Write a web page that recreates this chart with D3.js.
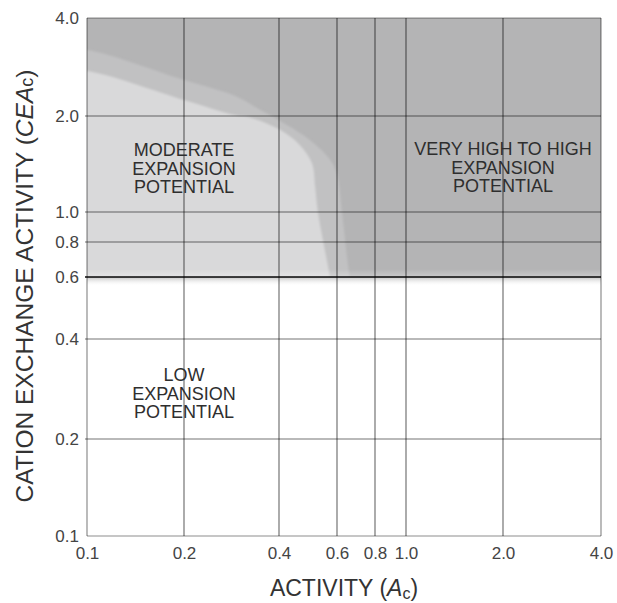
<!DOCTYPE html>
<html>
<head>
<meta charset="utf-8">
<script src="https://cdn.jsdelivr.net/npm/d3@7"></script>
<style>
  html, body { margin: 0; padding: 0; background: #fff; }
  svg { display: block; font-family: "Liberation Sans", Arial, Helvetica, sans-serif; }
</style>
</head>
<body>
<svg id="chart" width="617" height="603"></svg>
<script>
// ---- data ----
const xTicks = [0.1, 0.2, 0.4, 0.6, 0.8, 1.0, 2.0, 4.0];
const yTicks = [0.1, 0.2, 0.4, 0.6, 0.8, 1.0, 2.0, 4.0];
const expansiveThreshold = 0.6; // CEAc value above which zone is shaded
// outer edge of the transitional (medium grey) band
const transitionEdge = [[0.1,3.19],[0.2,2.58],[0.292,2.30],[0.348,2.09],[0.40,1.94],[0.497,1.68],[0.571,1.46],[0.60,1.31],[0.623,1.0],[0.648,0.70],[0.66,0.6]];
// edge of the moderate (light grey) zone
const moderateEdge = [[0.1,2.75],[0.2,2.24],[0.292,2.01],[0.324,1.98],[0.403,1.81],[0.463,1.62],[0.504,1.42],[0.515,1.2],[0.525,1.0],[0.56,0.68],[0.571,0.6]];
const zoneLabels = [
  { x: 0.2, y: 1.37, lines: ["MODERATE", "EXPANSION", "POTENTIAL"] },
  { x: 2.0, y: 1.38, lines: ["VERY HIGH TO HIGH", "EXPANSION", "POTENTIAL"] },
  { x: 0.2, y: 0.275, lines: ["LOW", "EXPANSION", "POTENTIAL"] }
];

// ---- layout ----
const svg = d3.select("#chart");
// piecewise log scales matching the printed grid spacing
const x = d3.scaleLog().domain(xTicks).range([87, 184, 279, 337, 375, 406, 503, 601]);
const y = d3.scaleLog().domain(yTicks).range([536, 439, 339, 277, 242, 212, 116, 18]);
const fmt = d3.format(".1f");

const defs = svg.append("defs");
const blur = defs.append("filter").attr("id", "soft").attr("x", "-5%").attr("y", "-5%").attr("width", "110%").attr("height", "110%");
blur.append("feGaussianBlur").attr("stdDeviation", 1.2);
const shadow = defs.append("linearGradient").attr("id", "shadow").attr("x1", 0).attr("x2", 0).attr("y1", 0).attr("y2", 1);
shadow.append("stop").attr("offset", "0%").attr("stop-color", "#bdbdbd").attr("stop-opacity", 0.9);
shadow.append("stop").attr("offset", "100%").attr("stop-color", "#ffffff").attr("stop-opacity", 0);
const strip = defs.append("linearGradient").attr("id", "strip").attr("x1", 0).attr("x2", 0).attr("y1", 0).attr("y2", 1);
strip.append("stop").attr("offset", "0%").attr("stop-color", "#ffffff").attr("stop-opacity", 0);
strip.append("stop").attr("offset", "100%").attr("stop-color", "#ffffff").attr("stop-opacity", 0.3);

const clip = defs.append("clipPath").attr("id", "plotclip");
clip.append("rect").attr("x", x(0.1)).attr("y", y(4)).attr("width", x(4) - x(0.1)).attr("height", y(expansiveThreshold) - y(4));

// dark zone (very high to high)
svg.append("rect")
  .attr("x", x(0.1)).attr("y", y(4))
  .attr("width", x(4) - x(0.1)).attr("height", y(expansiveThreshold) - y(4))
  .attr("fill", "#b4b4b5");

const zoneG = svg.append("g").attr("clip-path", "url(#plotclip)");
const area = d3.line().x(d => x(d[0])).y(d => y(d[1])).curve(d3.curveCatmullRom.alpha(0.5));
function zonePath(edge) {
  const pts = [[0.08, expansiveThreshold * 0.97], [0.08, edge[0][1]]].concat(edge).concat([[edge[edge.length-1][0], expansiveThreshold * 0.97]]);
  return area(pts) + "Z";
}
zoneG.append("path").attr("d", zonePath(transitionEdge)).attr("fill", "#c1c1c2").attr("filter", "url(#soft)");
zoneG.append("path").attr("d", zonePath(moderateEdge)).attr("fill", "#d9d9da").attr("filter", "url(#soft)");

// light strip at bottom of shaded zone
zoneG.append("rect")
  .attr("x", x(0.1)).attr("width", x(4) - x(0.1))
  .attr("y", y(0.64)).attr("height", y(expansiveThreshold) - y(0.64))
  .attr("fill", "url(#strip)");
// shadow below the 0.6 line
svg.append("rect")
  .attr("x", x(0.1)).attr("width", x(4) - x(0.1))
  .attr("y", y(expansiveThreshold)).attr("height", 9)
  .attr("fill", "url(#shadow)");

// ---- grid ----
const grid = svg.append("g");
const isEdge = d => d === 0.1 || d === 4;
grid.selectAll("line.v").data(xTicks).join("line")
  .attr("x1", d => x(d)).attr("x2", d => x(d))
  .attr("y1", y(4)).attr("y2", y(0.1))
  .attr("stroke", "#000").attr("stroke-opacity", d => isEdge(d) ? 0.45 : 0.55)
  .attr("stroke-width", 1.2);
grid.selectAll("line.h").data(yTicks).join("line")
  .attr("x1", d => x(0.1) - (isEdge(d) ? 0 : 2)).attr("x2", x(4))
  .attr("y1", d => y(d)).attr("y2", d => y(d))
  .attr("stroke", "#000")
  .attr("stroke-opacity", d => d === expansiveThreshold ? 0.72 : (isEdge(d) ? 0.45 : 0.55))
  .attr("stroke-width", d => d === expansiveThreshold ? 1.8 : 1.2);

// ---- axes ----
const xAxis = svg.append("g").attr("transform", `translate(0,${y(0.1)})`)
  .call(d3.axisBottom(x).tickValues(xTicks).tickFormat(fmt).tickSize(0).tickPadding(11));
const yAxis = svg.append("g").attr("transform", `translate(${x(0.1)},0)`)
  .call(d3.axisLeft(y).tickValues(yTicks).tickFormat(fmt).tickSize(0).tickPadding(8));
[xAxis, yAxis].forEach(a => {
  a.select(".domain").remove();
  a.selectAll("text").attr("font-size", 17).attr("fill", "#444")
    .attr("font-family", "Liberation Sans, Arial, sans-serif");
});
xAxis.selectAll("text").attr("dy", "0.72em");

// ---- zone labels ----
const lab = svg.append("g").attr("font-size", 18).attr("fill", "#2e2e2e").attr("text-anchor", "middle");
zoneLabels.forEach(z => {
  const t = lab.append("text").attr("x", x(z.x)).attr("y", y(z.y) + 6.5 - 18.5);
  z.lines.forEach((l, i) => t.append("tspan").attr("x", x(z.x)).attr("dy", i === 0 ? 0 : 18.5).text(l));
});

// ---- axis titles ----
const xt = svg.append("text").attr("x", 344).attr("y", 596).attr("text-anchor", "middle")
  .attr("font-size", 23).attr("fill", "#333");
xt.append("tspan").text("ACTIVITY (");
xt.append("tspan").attr("font-style", "italic").text("A");
xt.append("tspan").attr("font-size", 16).attr("dy", 3).text("c");
xt.append("tspan").attr("dy", -3).text(")");

const yt = svg.append("text").attr("transform", "translate(33,286) rotate(-90)").attr("text-anchor", "middle")
  .attr("font-size", 24.5).attr("fill", "#333");
yt.append("tspan").text("CATION EXCHANGE ACTIVITY (");
yt.append("tspan").attr("font-style", "italic").text("CEA");
yt.append("tspan").attr("font-size", 18).text("c");
yt.append("tspan").text(")");
</script>
</body>
</html>
